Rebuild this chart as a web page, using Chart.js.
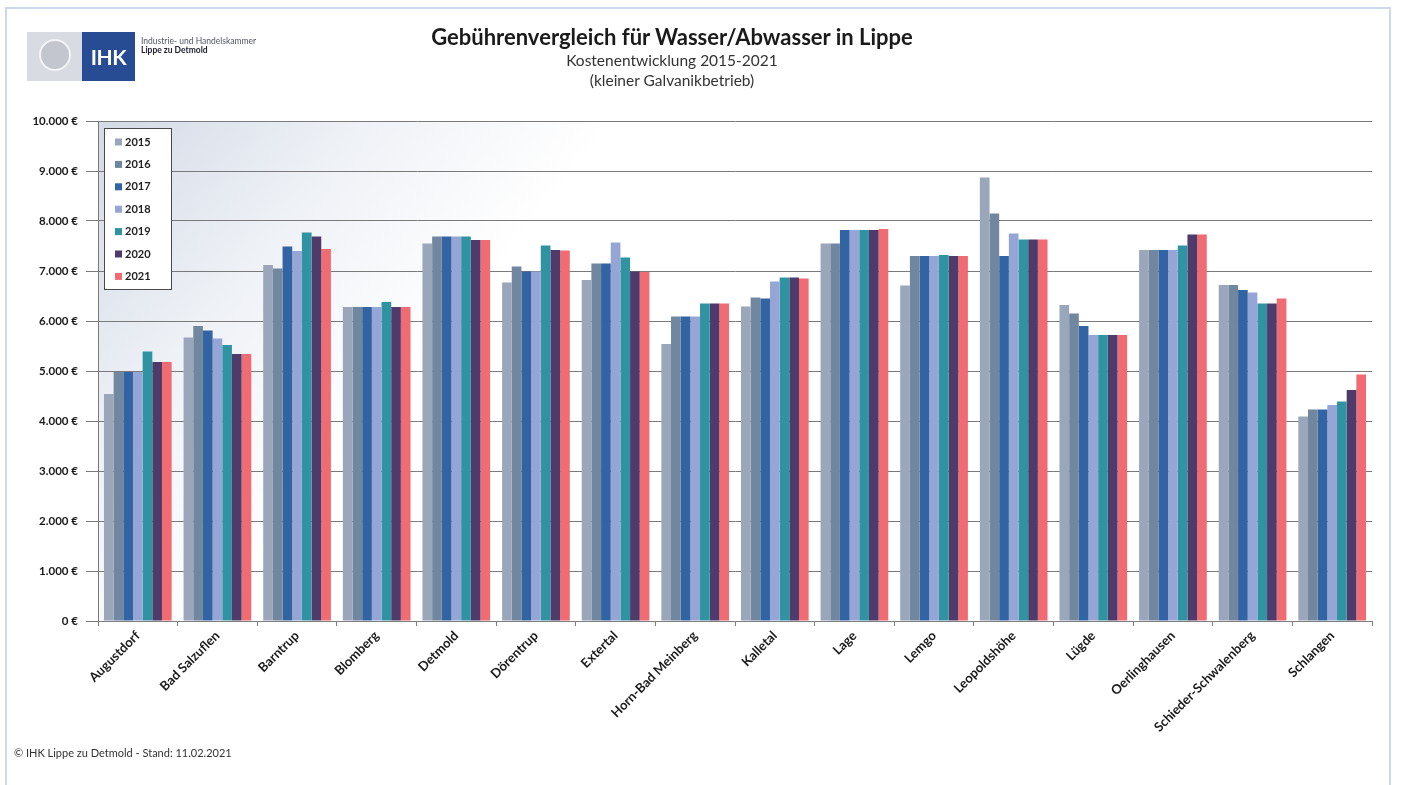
<!DOCTYPE html>
<html lang="de">
<head>
<meta charset="utf-8">
<title>Gebührenvergleich für Wasser/Abwasser in Lippe</title>
<script src="https://cdn.jsdelivr.net/npm/chart.js@4.4.1/dist/chart.umd.min.js"></script>
<style>
  html, body { margin: 0; padding: 0; background: #fff; }
  body { width: 1402px; height: 785px; position: relative; overflow: hidden; font-family: Lato, "Open Sans", sans-serif; }
  #frame { position: absolute; left: 5px; top: 7px; width: 1386px; height: 800px; border: 2px solid #cbd9ea; box-sizing: border-box; }
  #wrap { position: absolute; left: 0; top: 0; width: 1402px; height: 785px; }
  .logo-grey { position: absolute; left: 27px; top: 32px; width: 55px; height: 49px; background: #d9dbe2; }
  .logo-rose { position: absolute; left: 12px; top: 7px; width: 32px; height: 32px; border-radius: 50%; border: 2px solid #f4f4f6; box-sizing: border-box; background: #c4c6cf; }
  .logo-blue { position: absolute; left: 82px; top: 32px; width: 53px; height: 49px; background: #274c93; color: #fff; font-weight: 700; font-size: 21px; line-height: 49px; text-align: center; letter-spacing: -0.5px; }
  .logo-text { position: absolute; left: 141px; top: 37px; font-size: 8.5px; line-height: 9px; color: #556; }
  .logo-text b { color: #223; }
  #title { position: absolute; left: 0; width: 1344px; top: 23px; text-align: center; font-weight: 700; font-size: 22px; color: #1a1a1a; }
  .sub { position: absolute; left: 0; width: 1344px; text-align: center; font-size: 15.5px; color: #333; }
  #footer { position: absolute; left: 14px; top: 746px; font-size: 11px; color: #333; }
</style>
</head>
<body>
<div id="wrap"><canvas id="myChart" width="1402" height="785"></canvas></div>
<div id="frame"></div>
<div class="logo-grey"><div class="logo-rose"></div></div>
<div class="logo-blue">IHK</div>
<div class="logo-text">Industrie- und Handelskammer<br><b>Lippe zu Detmold</b></div>
<div id="title">Gebührenvergleich für Wasser/Abwasser in Lippe</div>
<div class="sub" style="top:51px">Kostenentwicklung 2015-2021</div>
<div class="sub" style="top:71px">(kleiner Galvanikbetrieb)</div>
<div id="footer">© IHK Lippe zu Detmold - Stand: 11.02.2021</div>
<script>
var orte = ['Augustdorf', 'Bad Salzuflen', 'Barntrup', 'Blomberg', 'Detmold', 'Dörentrup', 'Extertal',
    'Horn-Bad Meinberg', 'Kalletal', 'Lage', 'Lemgo', 'Leopoldshöhe', 'Lügde', 'Oerlinghausen',
    'Schieder-Schwalenberg', 'Schlangen'];
var jahre = ['2015', '2016', '2017', '2018', '2019', '2020', '2021'];

var kosten2015 = [4540, 5670, 7120, 6280, 7550, 6770, 6820, 5540, 6290, 7550, 6710, 8870, 6320, 7420, 6720, 4090];
var kosten2016 = [4980, 5900, 7050, 6280, 7690, 7090, 7150, 6090, 6470, 7550, 7300, 8150, 6150, 7420, 6720, 4230];
var kosten2017 = [4980, 5810, 7490, 6280, 7690, 6990, 7150, 6090, 6450, 7820, 7300, 7300, 5900, 7420, 6620, 4230];
var kosten2018 = [4980, 5650, 7400, 6280, 7690, 6990, 7570, 6090, 6790, 7820, 7300, 7750, 5720, 7420, 6570, 4320];
var kosten2019 = [5390, 5520, 7770, 6380, 7690, 7510, 7270, 6350, 6870, 7820, 7320, 7630, 5720, 7510, 6350, 4390];
var kosten2020 = [5180, 5340, 7690, 6280, 7620, 7420, 6990, 6350, 6870, 7820, 7300, 7630, 5720, 7730, 6350, 4620];
var kosten2021 = [5180, 5340, 7440, 6280, 7620, 7410, 6980, 6350, 6850, 7840, 7300, 7630, 5720, 7730, 6450, 4930];

var yMin = 0, yMax = 10000, yStep = 1000;

var farben = ['#9aa6ba', '#71869f', '#3264a3', '#95a6d6', '#2f93a2', '#4f3b6b', '#f06b72'];
var werte = [kosten2015, kosten2016, kosten2017, kosten2018, kosten2019, kosten2020, kosten2021];

function euro(v) {
    return v.toLocaleString('de-DE') + ' €';
}

// Hintergrund im Diagrammbereich (leichter Verlauf oben links)
var plotBg = {
    id: 'plotBg',
    beforeDraw: function(chart) {
        var a = chart.chartArea, c = chart.ctx;
        var g = c.createLinearGradient(a.left, a.top, a.left + a.width * 0.25, a.top + a.height * 0.5);
        g.addColorStop(0, '#d3dae6');
        g.addColorStop(0.5, '#eef1f6');
        g.addColorStop(1, '#ffffff');
        c.save();
        c.fillStyle = g;
        c.fillRect(a.left, a.top, a.width, a.height);
        c.restore();
    }
};

// Legende als Kasten im Diagramm
var boxLegend = {
    id: 'boxLegend',
    afterDraw: function(chart) {
        var a = chart.chartArea, c = chart.ctx;
        var x = a.left + 6, y = a.top + 7, w = 67, h = 161;
        c.save();
        c.fillStyle = '#ffffff';
        c.fillRect(x, y, w, h);
        c.strokeStyle = '#4a4a4a';
        c.lineWidth = 1;
        c.strokeRect(x + 0.5, y + 0.5, w, h);
        c.font = 'bold 11px Lato, sans-serif';
        c.textBaseline = 'middle';
        chart.data.datasets.forEach(function(ds, i) {
            var cy = y + 14 + i * 22.4;
            c.fillStyle = ds.backgroundColor;
            c.fillRect(x + 11, cy - 3.5, 7, 7);
            c.fillStyle = '#222';
            c.fillText(ds.label, x + 21, cy);
        });
        c.restore();
    }
};

document.addEventListener("DOMContentLoaded", function() {
    var ctx = document.getElementById('myChart').getContext('2d');

    var myChart = new Chart(ctx, {
        type: 'bar',
        data: {
            labels: orte,
            datasets: jahre.map(function(j, i) {
                return {
                    label: j,
                    data: werte[i],
                    backgroundColor: farben[i],
                    borderWidth: 0,
                    barPercentage: 1.0,
                    categoryPercentage: 0.85
                };
            })
        },
        options: {
            responsive: false,
            animation: false,
            layout: { padding: { left: 10, right: 30, top: 121, bottom: 0 } },
            plugins: {
                legend: { display: false },
                tooltip: { enabled: false }
            },
            scales: {
                x: {
                    afterFit: function(s) { s.height = 164; },
                    grid: { drawOnChartArea: false, drawTicks: true, tickLength: 5, offset: true, color: '#808080' },
                    border: { color: '#808080' },
                    ticks: {
                        minRotation: 45, maxRotation: 45, padding: 2,
                        color: '#1a1a1a',
                        font: { family: 'Lato', weight: 'bold', size: 13 }
                    }
                },
                y: {
                    min: yMin, max: yMax,
                    afterFit: function(s) { s.width = 88; },
                    grid: { color: '#7a7a7a', tickLength: 12 },
                    border: { color: '#7a7a7a' },
                    ticks: {
                        stepSize: yStep, padding: 8,
                        color: '#1a1a1a',
                        font: { family: 'Lato', weight: 'bold', size: 11.5 },
                        callback: function(v) { return euro(v); }
                    }
                }
            }
        },
        plugins: [plotBg, boxLegend]
    });
});
</script>
</body>
</html>
